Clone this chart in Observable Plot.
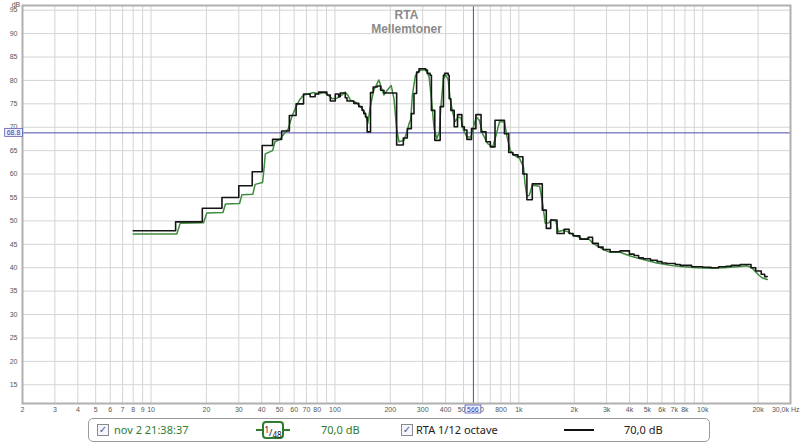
<!DOCTYPE html>
<html><head><meta charset="utf-8">
<script src="https://cdn.jsdelivr.net/npm/d3@7"></script>
<script src="https://cdn.jsdelivr.net/npm/@observablehq/plot@0.6"></script>
<style>
body{margin:0;background:#fff;width:800px;height:443px;overflow:hidden;position:relative;font-family:"Noto Sans",sans-serif}
#chart{position:absolute;left:0;top:0}
#legend{position:absolute;left:88px;top:418px;width:620px;height:22px;border:1px solid #9a9a9a;border-radius:5px;background:#fff}
.it{position:absolute;top:3px;font-size:11px;line-height:16px;white-space:nowrap}
.cb{position:absolute;top:5px;width:10px;height:10px;border:1px solid #8a8a8a;background:#f4f6fb;font:bold 10px/10px "DejaVu Sans";color:#3b5bab;text-align:center}
.green{color:#2e7d2e}
.sm{position:absolute;left:173px;top:2px;width:18px;height:14px;border:2px solid #2e7d2e;border-radius:4px;font-size:9px;line-height:14px;color:#111;text-align:center}
.sm sup{font-size:8px;vertical-align:3px}
.sm sub{font-size:8px;vertical-align:-2px}
.dash{position:absolute;top:10px;height:2px;width:6px;background:#2e7d2e}
</style>
</head><body>
<div id="chart"></div>
<div id="legend">
  <div class="cb" style="left:8px">✓</div>
  <div class="it green" style="left:25px">nov 2 21:38:37</div>
  <div class="dash" style="left:167px"></div>
  <div class="sm"><sup>1</sup>/<sub>48</sub></div>
  <div class="dash" style="left:195px"></div>
  <div class="it green" style="left:232px">70,0 dB</div>
  <div class="cb" style="left:312px">✓</div>
  <div class="it" style="left:327px;color:#222">RTA 1/12 octave</div>
  <div style="position:absolute;left:475px;top:10px;width:30px;height:2px;background:#111"></div>
  <div class="it" style="left:535px;color:#222">70,0 dB</div>
</div>
<script>
// Black: RTA 1/12 octave (step start frequency, dB)
const blackHz = [8,13.6,19.0,24.3,30.0,35.5,40.2,45.8,51.3,56.5,61.5,67.5,73.3,78.0,81.4,90.4,94.3,100.4,104.7,106.8,113.8,116.3,126.5,134.8,140.5,143.5,146.6,149.7,156.1,161.4,169.8,177.1,184.7,216.5,235.4,247.4,260.2,269,278,286.5,311.5,318.2,329,334.6,349,373.5,389,395,413,418,427,445,464,490,505,522,553,584,623,663,700,742,835,881,927,988,1052,1106,1183,1341,1410,1490,1613,1763,1876,1972,2147,2384,2516,2704,2870,3135,3550,3990,4230,4480,4750,5200,5650,6000,6350,7100,7550,8700,10000,11100,12200,13400,14300,16000,18300,19400,20800,21700,22400];
const blackDb = [47.9,49.8,52.7,55.0,57.5,60.5,66.1,67.4,69.2,72.5,75.0,77.1,76.5,77.1,77.5,76.9,75.6,77.1,76.5,77.3,76.3,75.6,75.1,74.4,73.6,72.9,72.2,69.0,77.4,78.6,78.8,77.9,77.3,66.2,67.7,69.7,72.9,77.2,81.8,82.5,82.2,81.5,81.1,73.6,67.2,74.4,81.1,81.5,81.1,76.1,73.6,70.1,72.7,70.1,69.4,67.4,69.7,72.7,69.0,66.9,65.8,71.5,68.6,64.6,64.1,63.7,60.0,54.5,57.9,52.3,48.4,50.2,47.3,48.2,47.3,46.8,46.1,46.5,45.2,44.4,43.9,43.4,43.6,42.9,42.6,42.1,41.9,41.6,41.3,41.0,40.9,40.7,40.5,40.2,40.1,40.0,40.2,40.3,40.5,40.7,40.0,39.3,38.6,38.1,38.1];
// Green: nov 2 21:38:37 (1/48 smoothing)
const greenHz = [8,13.8,14.4,19.3,20.1,24.6,25.4,30.3,31.2,35.8,36.8,40.4,41.0,41.8,45.8,47.2,50.2,52.4,55.8,58.2,61.5,64.1,67.5,71.8,76.5,81.4,86.7,90.4,96.4,102.6,109.2,113.8,117.3,121.3,129.2,134.8,140.5,146.6,150.9,156.1,162.6,173.3,178.3,184.7,192.4,202.3,209.4,216.5,222.9,237.3,247.4,253,258.3,263.7,274,292,311.5,325,334.6,346,358,370,376,389,401,413,423,436,451,468,484,500,522,548,567,587,610,636,677,721,752,785,835,863,901,948,1010,1060,1080,1106,1140,1183,1297,1346,1391,1458,1500,1590,1640,1740,1850,1972,2099,2225,2384,2516,2704,2900,3135,3550,4030,4467,5170,5623,6650,7870,9310,11015,13030,15390,17460,18600,19410,20230,21090,22440];
const greenDb = [47.2,47.2,49.5,49.6,51.7,51.8,53.6,53.7,55.6,55.7,57.8,58.2,60.5,64.3,65.0,66.9,67.4,68.4,69.7,72.2,74.4,75.8,76.9,77.1,77.4,77.1,77.4,77.1,76.1,76.2,76.9,77.5,76.9,75.8,75.4,74.7,74.0,72.9,70.8,74.7,77.9,80.1,78.6,76.9,77.9,78.9,76.1,69.7,66.9,67.2,69.2,70.8,71.7,76.9,81.1,82.2,82.2,80.8,76.1,69.7,67.6,69.0,74.0,80.4,81.1,80.1,76.1,73.3,71.2,72.2,72.0,69.4,67.9,67.9,70.1,72.2,71.5,68.6,66.5,65.8,68.3,71.2,71.1,67.9,64.9,64.0,63.3,61.5,58.0,55.2,55.5,57.6,57.4,53.8,49.5,49.6,50.3,49.9,47.7,48.0,47.7,47.0,46.6,46.1,46.3,45.3,44.5,43.8,43.3,43.3,42.5,42.0,41.4,41.0,40.5,40.2,40.0,39.9,40.0,40.2,40.4,39.9,39.1,38.4,37.8,37.5];

const xTicks = [2,3,4,5,6,7,8,9,10,20,30,40,50,60,70,80,100,200,300,400,500,600,800,1000,2000,3000,4000,5000,6000,7000,8000,10000,20000];
const xLastTick = [30000];
const xGrid = [2,3,4,5,6,7,8,9,10,20,30,40,50,60,70,80,90,100,200,300,400,500,600,700,800,900,1000,2000,3000,4000,5000,6000,7000,8000,9000,10000,20000];
const yTicks = [15,20,25,30,35,40,45,50,55,60,65,70,75,80,85,90,95];
const titleLines = ["RTA", "Mellemtoner"];
const cursorHz = 566;
const cursorDb = 68.8;

const black = blackHz.map((f, i) => ({f, db: blackDb[i]}));
const green = greenHz.map((f, i) => ({f, db: greenDb[i]}));

function fmtHz(d) {
  if (d === 30000) return "30,0k Hz";
  if (d >= 1000) return (d / 1000) + "k";
  return String(d);
}

const W = 800, H = 416;
const chart = Plot.plot({
  width: W, height: H,
  marginLeft: 22, marginRight: 10, marginTop: 5, marginBottom: 13,
  style: {fontFamily: "Liberation Sans, Arial, sans-serif", fontSize: "7px", color: "#555", background: "#fff"},
  x: {type: "log", domain: [2, 30000], axis: null},
  y: {domain: [11, 96], axis: null},
  marks: [
    Plot.gridX(xGrid, {stroke: "#d4d4d4", strokeOpacity: 1}),
    Plot.gridY(yTicks, {stroke: "#d4d4d4", strokeOpacity: 1}),
    Plot.text(xTicks, {x: d => d, text: fmtHz, frameAnchor: "bottom", dy: 6, lineAnchor: "middle", fill: "#555", fontSize: 7}),
    Plot.text(xLastTick, {x: d => d, text: fmtHz, frameAnchor: "bottom", dy: 6, dx: 9, textAnchor: "end", lineAnchor: "middle", fill: "#555", fontSize: 7}),
    Plot.text(yTicks, {y: d => d, text: d => String(d), frameAnchor: "left", dx: -5, textAnchor: "end", lineAnchor: "middle", fill: "#555", fontSize: 7}),
    Plot.text([titleLines[0]], {frameAnchor: "top", dy: 10, lineAnchor: "middle", fontWeight: "bold", fontSize: 12, fill: "#8a8a8a"}),
    Plot.text([titleLines[1]], {frameAnchor: "top", dy: 24, lineAnchor: "middle", fontWeight: "bold", fontSize: 12, fill: "#8a8a8a"}),
    Plot.ruleY([cursorDb], {stroke: "#4d4da8", strokeWidth: 1}),
    Plot.ruleX([cursorHz], {stroke: "#4d4da8", strokeWidth: 1}),
    Plot.line(green, {x: "f", y: "db", stroke: "#3d8b3d", strokeWidth: 1.5, curve: "linear"}),
    Plot.line(black, {x: "f", y: "db", stroke: "#151515", strokeWidth: 1.6, curve: "step-after"}),
    Plot.frame({stroke: "#b0b0b0", strokeWidth: 2})
  ]
});
document.getElementById("chart").append(chart);

const svg = d3.select(chart);
const xs = chart.scale("x"), ys = chart.scale("y");
function boxLabel(text, cx, cy) {
  const g = svg.append("g");
  const t = g.append("text").attr("x", cx).attr("y", cy)
    .attr("text-anchor", "middle").attr("dominant-baseline", "central")
    .attr("font-size", 7).attr("fill", "#3a3aa8").text(text);
  const b = t.node().getBBox();
  g.insert("rect", "text").attr("x", b.x - 2).attr("y", b.y - 0.5)
    .attr("width", b.width + 4).attr("height", b.height + 1)
    .attr("fill", "#eef0ff").attr("stroke", "#5a5ab0").attr("stroke-width", 0.8);
}
boxLabel(String(cursorDb), 13.5, ys.apply(cursorDb));
boxLabel(String(cursorHz), xs.apply(cursorHz), H - 13 + 6);
svg.append("text").attr("x", 16).attr("y", 4).attr("text-anchor", "middle")
  .attr("dominant-baseline", "central").attr("font-size", 7).attr("fill", "#555").text("dB");
</script>
</body></html>
